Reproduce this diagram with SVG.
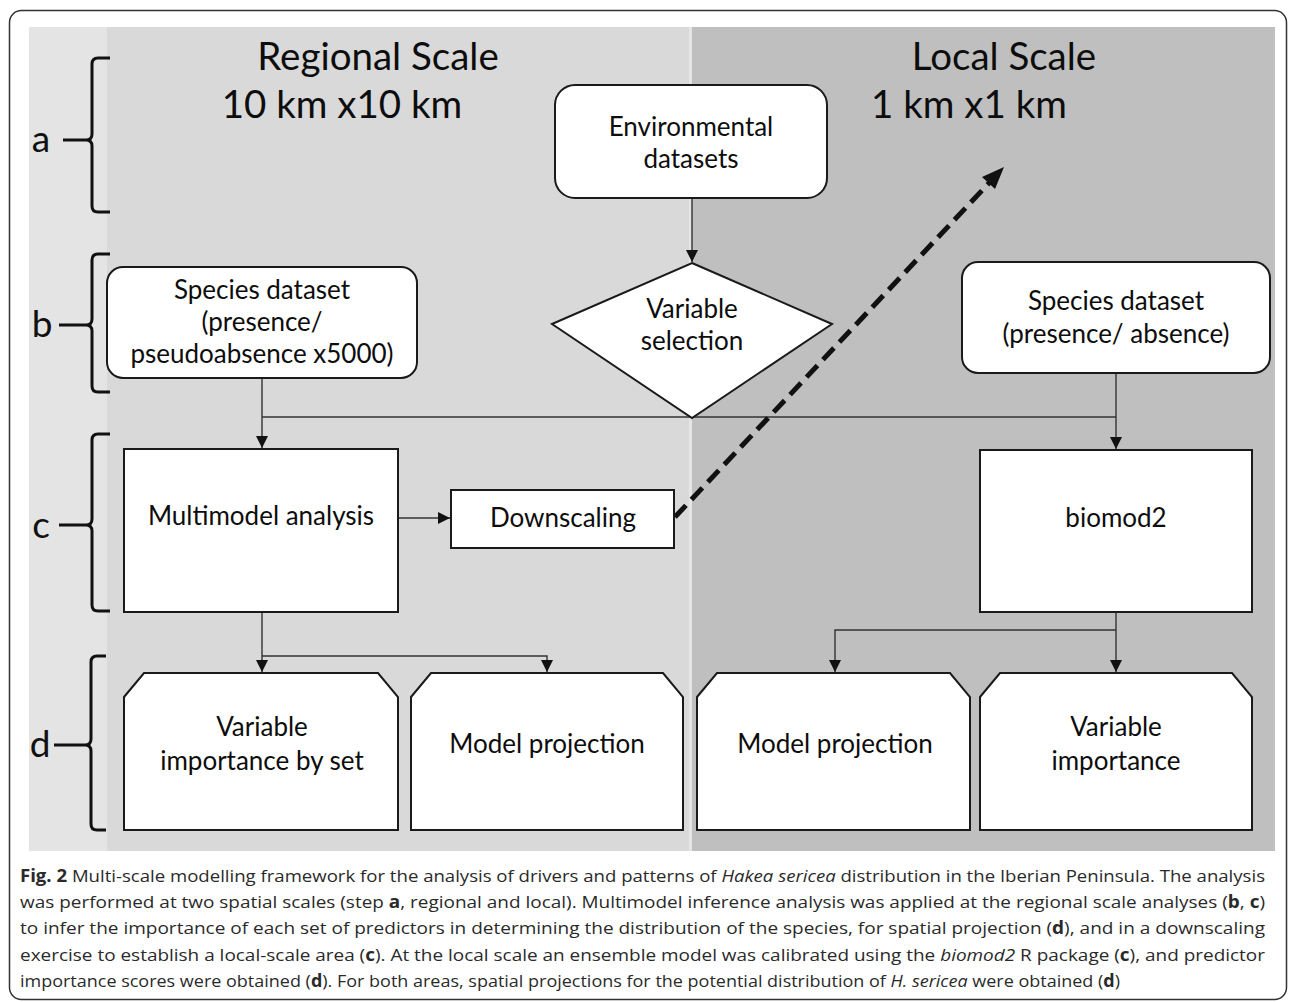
<svg xmlns="http://www.w3.org/2000/svg" width="1290" height="1002" viewBox="0 0 1290 1002">
<style>
.lbl{font-family:Lato,"Open Sans","Liberation Sans",sans-serif;fill:#0d0d0d;text-anchor:middle}
.node{font-size:26px}
.title{font-size:38.5px}
.side{font-size:37px;font-family:Lato,"Open Sans",sans-serif;fill:#111;text-anchor:middle}
.box{fill:#fff;stroke:#1a1a1a;stroke-width:2}
.conn{fill:none;stroke:#333;stroke-width:1.4}
.brace{fill:none;stroke:#111;stroke-width:3;stroke-linecap:butt}
.cap{font-family:"Open Sans","Noto Sans",sans-serif;font-size:17px;fill:#2a2a2a}
.b{font-weight:bold}
.i{font-style:italic}
</style>
<defs>
<marker id="ah" viewBox="0 0 12 12" refX="12" refY="6" markerWidth="12" markerHeight="12" markerUnits="userSpaceOnUse" orient="auto">
<path d="M0,0 L12,6 L0,12 Z" fill="#111"/>
</marker>
</defs>
<rect x="0" y="0" width="1290" height="1002" fill="#fff"/>
<rect x="9.5" y="10.5" width="1277" height="989" rx="12" fill="#fff" stroke="#333" stroke-width="1.5"/>
<g id="background">
<rect x="29" y="27" width="78" height="824" fill="#e4e4e4"/>
<rect x="107" y="27" width="583" height="824" fill="#d9d9d9"/>
<rect x="690" y="27" width="585" height="824" fill="#bfbfbf"/>
<rect x="689" y="27" width="3" height="824" fill="#e6e6e6"/>
</g>
<g id="titles">
<text class="lbl title" x="378" y="70">Regional Scale</text>
<text class="lbl title" x="342" y="118">10 km x10 km</text>
<text class="lbl title" x="1004" y="70">Local Scale</text>
<text class="lbl title" x="969" y="118">1 km x1 km</text>
</g>
<g id="steps">
<g id="step-a">
<text class="side" x="41" y="152">a</text>
<path class="brace" d="M110,58 H98 Q92,58 92,64 V134 Q92,140 86,140 Q92,140 92,146 V206 Q92,212 98,212 H110 M63,140 H88"/>
</g>
<g id="step-b">
<text class="side" x="42" y="337">b</text>
<path class="brace" d="M110,254 H98 Q92,254 92,260 V319 Q92,325 86,325 Q92,325 92,331 V386 Q92,392 98,392 H110 M59,325 H88"/>
</g>
<g id="step-c">
<text class="side" x="41" y="538">c</text>
<path class="brace" d="M110,434 H98 Q92,434 92,440 V519 Q92,525 86,525 Q92,525 92,531 V605 Q92,611 98,611 H110 M59,525 H88"/>
</g>
<g id="step-d">
<text class="side" x="40" y="757">d</text>
<path class="brace" d="M106,656 H97 Q91,656 91,662 V739 Q91,745 85,745 Q91,745 91,751 V824 Q91,830 97,830 H106 M54,745 H87"/>
</g>
</g>
<g id="connectors">
<path class="conn" d="M692,198 V262" marker-end="url(#ah)"/>
<path class="conn" d="M262,378 V448" marker-end="url(#ah)"/>
<path class="conn" d="M262,417 H1116"/>
<path class="conn" d="M1116,373 V449" marker-end="url(#ah)"/>
<path class="conn" d="M398,518 H450" marker-end="url(#ah)"/>
<path class="conn" d="M262,612 V672" marker-end="url(#ah)"/>
<path class="conn" d="M262,656 H547 V672" marker-end="url(#ah)"/>
<path class="conn" d="M1116,612 V672" marker-end="url(#ah)"/>
<path class="conn" d="M1116,630 H835 V672" marker-end="url(#ah)"/>
<path d="M675,517 L990,182" fill="none" stroke="#111" stroke-width="5" stroke-dasharray="16,8"/>
<path d="M1004,167 L982,177 L995,189 Z" fill="#111"/>
</g>
<g id="node-env">
<rect class="box" x="555" y="85" width="272" height="113" rx="20"/>
<text class="lbl node" x="691" y="136">Environmental</text>
<text class="lbl node" x="691" y="168">datasets</text>
</g>
<g id="node-varsel">
<polygon class="box" points="692,263 832,324 692,418 552,324"/>
<text class="lbl node" x="692" y="318">Variable</text>
<text class="lbl node" x="692" y="350">selection</text>
</g>
<g id="node-species-regional">
<rect class="box" x="107" y="267" width="310" height="111" rx="16"/>
<text class="lbl node" x="262" y="299">Species dataset</text>
<text class="lbl node" x="262" y="331">(presence/</text>
<text class="lbl node" x="262" y="363">pseudoabsence x5000)</text>
</g>
<g id="node-species-local">
<rect class="box" x="962" y="262" width="308" height="111" rx="16"/>
<text class="lbl node" x="1116" y="310">Species dataset</text>
<text class="lbl node" x="1116" y="343">(presence/ absence)</text>
</g>
<g id="node-multimodel">
<rect class="box" x="124" y="449" width="274" height="163"/>
<text class="lbl node" x="261" y="525">Multimodel analysis</text>
</g>
<g id="node-downscaling">
<rect class="box" x="451" y="490" width="223" height="58"/>
<text class="lbl node" x="563" y="527">Downscaling</text>
</g>
<g id="node-biomod2">
<rect class="box" x="980" y="450" width="272" height="162"/>
<text class="lbl node" x="1116" y="527">biomod2</text>
</g>
<g id="node-varimp-set">
<polygon class="box" points="124,697 144,673 378,673 398,697 398,830 124,830"/>
<text class="lbl node" x="262" y="736">Variable</text>
<text class="lbl node" x="262" y="770">importance by set</text>
</g>
<g id="node-proj-regional">
<polygon class="box" points="411,697 431,673 663,673 683,697 683,830 411,830"/>
<text class="lbl node" x="547" y="753">Model projection</text>
</g>
<g id="node-proj-local">
<polygon class="box" points="697,697 717,673 950,673 970,697 970,830 697,830"/>
<text class="lbl node" x="835" y="753">Model projection</text>
</g>
<g id="node-varimp-local">
<polygon class="box" points="980,697 1000,673 1232,673 1252,697 1252,830 980,830"/>
<text class="lbl node" x="1116" y="736">Variable</text>
<text class="lbl node" x="1116" y="770">importance</text>
</g>
<g id="caption">
<text class="cap" x="20" y="882" textLength="1245" lengthAdjust="spacingAndGlyphs"><tspan class="b">Fig. 2</tspan> Multi-scale modelling framework for the analysis of drivers and patterns of <tspan class="i">Hakea sericea</tspan> distribution in the Iberian Peninsula. The analysis</text>
<text class="cap" x="20" y="908" textLength="1245" lengthAdjust="spacingAndGlyphs">was performed at two spatial scales (step <tspan class="b">a</tspan>, regional and local). Multimodel inference analysis was applied at the regional scale analyses (<tspan class="b">b</tspan>, <tspan class="b">c</tspan>)</text>
<text class="cap" x="20" y="934" textLength="1245" lengthAdjust="spacingAndGlyphs">to infer the importance of each set of predictors in determining the distribution of the species, for spatial projection (<tspan class="b">d</tspan>), and in a downscaling</text>
<text class="cap" x="20" y="961" textLength="1245" lengthAdjust="spacingAndGlyphs">exercise to establish a local-scale area (<tspan class="b">c</tspan>). At the local scale an ensemble model was calibrated using the <tspan class="i">biomod2</tspan> R package (<tspan class="b">c</tspan>), and predictor</text>
<text class="cap" x="20" y="987" textLength="1100" lengthAdjust="spacingAndGlyphs">importance scores were obtained (<tspan class="b">d</tspan>). For both areas, spatial projections for the potential distribution of <tspan class="i">H. sericea</tspan> were obtained (<tspan class="b">d</tspan>)</text>
</g>
</svg>
